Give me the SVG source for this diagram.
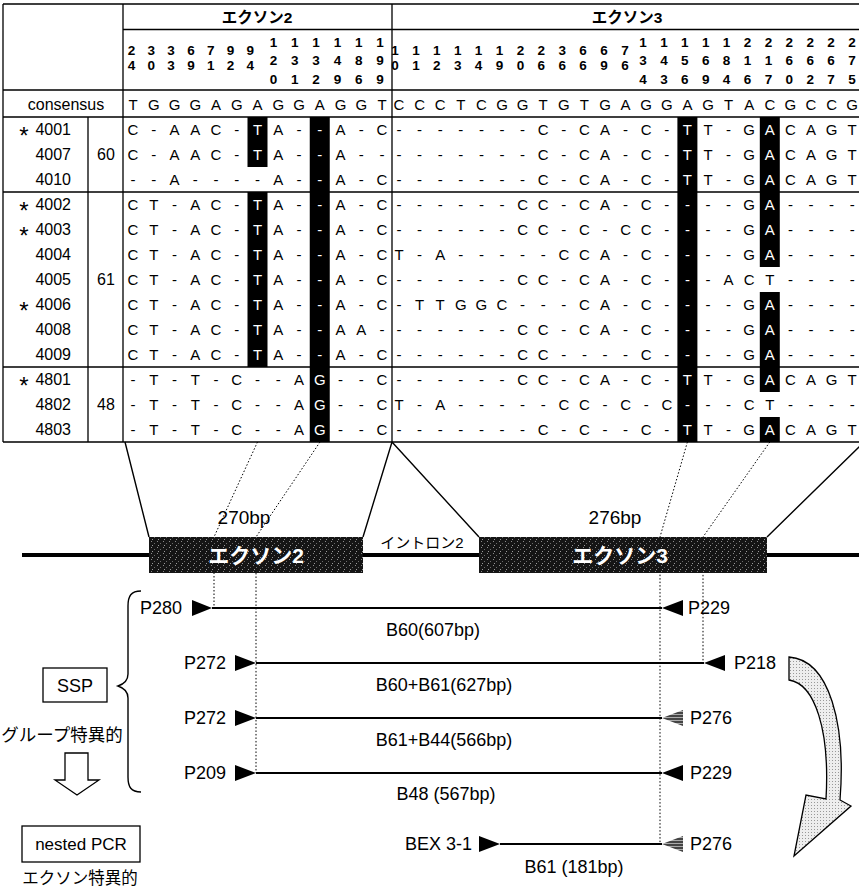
<svg xmlns="http://www.w3.org/2000/svg" width="859" height="892" viewBox="0 0 859 892">
<defs>
<style>
text{font-family:"Liberation Sans",Arial,"Noto Sans CJK JP",sans-serif;fill:#000}
.seq{font-size:15px;text-anchor:middle}
.w{fill:#fff}
.hd{font-size:13.5px;font-weight:bold;text-anchor:middle}
.nm{font-size:16px;text-anchor:end}
.ast{font-size:24px;text-anchor:middle}
.gn{font-size:16px;text-anchor:middle}
.ttl{font-size:15.5px;font-weight:bold;text-anchor:middle}
.lbl{font-size:18px}
.mid{text-anchor:middle}
.end{text-anchor:end}
.grid{stroke:#000;stroke-width:1.3;fill:none}
.sol{stroke:#000;stroke-width:1.4;fill:none}
.dot{stroke:#000;stroke-width:1;stroke-dasharray:1.5 2;fill:none}
.pl{stroke:#000;stroke-width:2;fill:none}
.bk{fill:#000}
</style>
<pattern id="spk" width="6" height="6" patternUnits="userSpaceOnUse"><rect width="6" height="6" fill="#151515"/><rect x="1" y="1" width="1" height="1" fill="#8a8a8a"/><rect x="4" y="3" width="1" height="1" fill="#6a6a6a"/><rect x="2" y="5" width="1" height="1" fill="#9a9a9a"/></pattern>
<pattern id="hat" width="3" height="3" patternUnits="userSpaceOnUse"><rect width="3" height="3" fill="#444"/><rect width="3" height="1" fill="#aaa"/></pattern>
<pattern id="stp" width="3" height="3" patternUnits="userSpaceOnUse"><rect width="3" height="3" fill="#eee"/><rect x="1" y="1" width="1" height="1" fill="#999"/></pattern>
</defs>

<g id="table">
<rect class="bk" x="247.5" y="117" width="20" height="50"/>
<rect class="bk" x="247.5" y="192" width="20" height="175"/>
<rect class="bk" x="309.75" y="117" width="20" height="325"/>
<rect class="bk" x="677.4" y="117" width="20" height="325"/>
<rect class="bk" x="759.8" y="117" width="20" height="150"/>
<rect class="bk" x="759.8" y="292" width="20" height="100"/>
<rect class="bk" x="759.8" y="417" width="20" height="25"/>

<path class="grid" d="M3 4H859M123 29.5H859M3 90H859M3 117H859M3 192H859M3 367H859M3 442H859M3 4V442M88 117V442M123 4V442M392 4V442"/>

<text class="ttl" x="257" y="23">エクソン2</text>
<text class="ttl" x="627" y="23">エクソン3</text>
<text class="hd" x="131.5 151.3 171.1 190.9 210.7 230.5 250.3" y="55">2336799</text>
<text class="hd" x="131.5 151.3 171.1 190.9 210.7 230.5 250.3" y="70">4039124</text>
<text class="hd" x="273.5 294.8 316.1 337.4 358.7 380" y="47">111111</text>
<text class="hd" x="273.5 294.8 316.1 337.4 358.7 380" y="65">233489</text>
<text class="hd" x="273.5 294.8 316.1 337.4 358.7 380" y="84">012969</text>
<text class="hd" x="395 415.9 436.8 457.7 478.6 499.5 520.4 541.3 562.2 583.1 604 624.9" y="55">111111223667</text>
<text class="hd" x="395 415.9 436.8 457.7 478.6 499.5 520.4 541.3 562.2 583.1 604 624.9" y="70">012349066696</text>
<text class="hd" x="643 663.9 684.8 705.7 726.6 747.5 768.4 789.3 810.2 831.1 852" y="47">11111222222</text>
<text class="hd" x="643 663.9 684.8 705.7 726.6 747.5 768.4 789.3 810.2 831.1 852" y="65">34568116667</text>
<text class="hd" x="643 663.9 684.8 705.7 726.6 747.5 768.4 789.3 810.2 831.1 852" y="84">43694670275</text>

<text class="gn" x="66" y="109.5">consensus</text>
<text class="seq" x="133 153.75 174.5 195.25 216 236.75 257.5 278.25 299 319.75 340.5 361.25 382" y="109.5">TGGGAGAGGAGGT</text>
<text class="seq" x="399 419.6 440.2 460.8 481.4 502 522.6 543.2 563.8 584.4 605 625.6 646.2 666.8 687.4 708 728.6 749.2 769.8 790.4 811 831.6 852.2" y="109.5">CCCTCGGTGTGAGGAGTACGCCG</text>

<text class="ast" x="24" y="143.5">*</text><text class="nm" x="71" y="135">4001</text>
<text class="nm" x="71" y="160">4007</text>
<text class="nm" x="71" y="185">4010</text>
<text class="ast" x="24" y="218.5">*</text><text class="nm" x="71" y="210">4002</text>
<text class="ast" x="24" y="243.5">*</text><text class="nm" x="71" y="235">4003</text>
<text class="nm" x="71" y="260">4004</text>
<text class="nm" x="71" y="285">4005</text>
<text class="ast" x="24" y="318.5">*</text><text class="nm" x="71" y="310">4006</text>
<text class="nm" x="71" y="335">4008</text>
<text class="nm" x="71" y="360">4009</text>
<text class="ast" x="24" y="393.5">*</text><text class="nm" x="71" y="385">4801</text>
<text class="nm" x="71" y="410">4802</text>
<text class="nm" x="71" y="435">4803</text>
<text class="gn" x="106" y="160">60</text>
<text class="gn" x="106" y="285">61</text>
<text class="gn" x="106" y="410">48</text>

<g id="exon2-rows">
<text class="seq" x="133 153.75 174.5 195.25 216 236.75 257.5 278.25 299 319.75 340.5 361.25 382" y="135">C-AAC-<tspan class="w">T</tspan>A-<tspan class="w">-</tspan>A-C</text>
<text class="seq" x="133 153.75 174.5 195.25 216 236.75 257.5 278.25 299 319.75 340.5 361.25 382" y="160">C-AAC-<tspan class="w">T</tspan>A-<tspan class="w">-</tspan>A--</text>
<text class="seq" x="133 153.75 174.5 195.25 216 236.75 257.5 278.25 299 319.75 340.5 361.25 382" y="185">--A----A-<tspan class="w">-</tspan>A-C</text>
<text class="seq" x="133 153.75 174.5 195.25 216 236.75 257.5 278.25 299 319.75 340.5 361.25 382" y="210">CT-AC-<tspan class="w">T</tspan>A-<tspan class="w">-</tspan>A-C</text>
<text class="seq" x="133 153.75 174.5 195.25 216 236.75 257.5 278.25 299 319.75 340.5 361.25 382" y="235">CT-AC-<tspan class="w">T</tspan>A-<tspan class="w">-</tspan>A-C</text>
<text class="seq" x="133 153.75 174.5 195.25 216 236.75 257.5 278.25 299 319.75 340.5 361.25 382" y="260">CT-AC-<tspan class="w">T</tspan>A-<tspan class="w">-</tspan>A-C</text>
<text class="seq" x="133 153.75 174.5 195.25 216 236.75 257.5 278.25 299 319.75 340.5 361.25 382" y="285">CT-AC-<tspan class="w">T</tspan>A-<tspan class="w">-</tspan>A-C</text>
<text class="seq" x="133 153.75 174.5 195.25 216 236.75 257.5 278.25 299 319.75 340.5 361.25 382" y="310">CT-AC-<tspan class="w">T</tspan>A-<tspan class="w">-</tspan>A-C</text>
<text class="seq" x="133 153.75 174.5 195.25 216 236.75 257.5 278.25 299 319.75 340.5 361.25 382" y="335">CT-AC-<tspan class="w">T</tspan>A-<tspan class="w">-</tspan>AA-</text>
<text class="seq" x="133 153.75 174.5 195.25 216 236.75 257.5 278.25 299 319.75 340.5 361.25 382" y="360">CT-AC-<tspan class="w">T</tspan>A-<tspan class="w">-</tspan>A-C</text>
<text class="seq" x="133 153.75 174.5 195.25 216 236.75 257.5 278.25 299 319.75 340.5 361.25 382" y="385">-T-T-C--A<tspan class="w">G</tspan>--C</text>
<text class="seq" x="133 153.75 174.5 195.25 216 236.75 257.5 278.25 299 319.75 340.5 361.25 382" y="410">-T-T-C--A<tspan class="w">G</tspan>--C</text>
<text class="seq" x="133 153.75 174.5 195.25 216 236.75 257.5 278.25 299 319.75 340.5 361.25 382" y="435">-T-T-C--A<tspan class="w">G</tspan>--C</text>
</g>

<g id="exon3-rows">
<text class="seq" x="399 419.6 440.2 460.8 481.4 502 522.6 543.2 563.8 584.4 605 625.6 646.2 666.8 687.4 708 728.6 749.2 769.8 790.4 811 831.6 852.2" y="135">-------C-CA-C-<tspan class="w">T</tspan>T-G<tspan class="w">A</tspan>CAGT</text>
<text class="seq" x="399 419.6 440.2 460.8 481.4 502 522.6 543.2 563.8 584.4 605 625.6 646.2 666.8 687.4 708 728.6 749.2 769.8 790.4 811 831.6 852.2" y="160">-------C-CA-C-<tspan class="w">T</tspan>T-G<tspan class="w">A</tspan>CAGT</text>
<text class="seq" x="399 419.6 440.2 460.8 481.4 502 522.6 543.2 563.8 584.4 605 625.6 646.2 666.8 687.4 708 728.6 749.2 769.8 790.4 811 831.6 852.2" y="185">-------C-CA-C-<tspan class="w">T</tspan>T-G<tspan class="w">A</tspan>CAGT</text>
<text class="seq" x="399 419.6 440.2 460.8 481.4 502 522.6 543.2 563.8 584.4 605 625.6 646.2 666.8 687.4 708 728.6 749.2 769.8 790.4 811 831.6 852.2" y="210">------CC-CA-C-<tspan class="w">-</tspan>--G<tspan class="w">A</tspan>----</text>
<text class="seq" x="399 419.6 440.2 460.8 481.4 502 522.6 543.2 563.8 584.4 605 625.6 646.2 666.8 687.4 708 728.6 749.2 769.8 790.4 811 831.6 852.2" y="235">------CC-C-CC-<tspan class="w">-</tspan>--G<tspan class="w">A</tspan>----</text>
<text class="seq" x="399 419.6 440.2 460.8 481.4 502 522.6 543.2 563.8 584.4 605 625.6 646.2 666.8 687.4 708 728.6 749.2 769.8 790.4 811 831.6 852.2" y="260">T-A-----CCA-C-<tspan class="w">-</tspan>--G<tspan class="w">A</tspan>----</text>
<text class="seq" x="399 419.6 440.2 460.8 481.4 502 522.6 543.2 563.8 584.4 605 625.6 646.2 666.8 687.4 708 728.6 749.2 769.8 790.4 811 831.6 852.2" y="285">------CC-CA-C-<tspan class="w">-</tspan>-ACT----</text>
<text class="seq" x="399 419.6 440.2 460.8 481.4 502 522.6 543.2 563.8 584.4 605 625.6 646.2 666.8 687.4 708 728.6 749.2 769.8 790.4 811 831.6 852.2" y="310">-TTGGC---CA-C-<tspan class="w">-</tspan>--G<tspan class="w">A</tspan>----</text>
<text class="seq" x="399 419.6 440.2 460.8 481.4 502 522.6 543.2 563.8 584.4 605 625.6 646.2 666.8 687.4 708 728.6 749.2 769.8 790.4 811 831.6 852.2" y="335">------CC-CA-C-<tspan class="w">-</tspan>--G<tspan class="w">A</tspan>----</text>
<text class="seq" x="399 419.6 440.2 460.8 481.4 502 522.6 543.2 563.8 584.4 605 625.6 646.2 666.8 687.4 708 728.6 749.2 769.8 790.4 811 831.6 852.2" y="360">------CC----C-<tspan class="w">-</tspan>--G<tspan class="w">A</tspan>----</text>
<text class="seq" x="399 419.6 440.2 460.8 481.4 502 522.6 543.2 563.8 584.4 605 625.6 646.2 666.8 687.4 708 728.6 749.2 769.8 790.4 811 831.6 852.2" y="385">------CC-CA-C-<tspan class="w">T</tspan>T-G<tspan class="w">A</tspan>CAGT</text>
<text class="seq" x="399 419.6 440.2 460.8 481.4 502 522.6 543.2 563.8 584.4 605 625.6 646.2 666.8 687.4 708 728.6 749.2 769.8 790.4 811 831.6 852.2" y="410">T-A-----CC-C-C<tspan class="w">-</tspan>--CT----</text>
<text class="seq" x="399 419.6 440.2 460.8 481.4 502 522.6 543.2 563.8 584.4 605 625.6 646.2 666.8 687.4 708 728.6 749.2 769.8 790.4 811 831.6 852.2" y="435">-------C-C--C-<tspan class="w">T</tspan>T-G<tspan class="w">A</tspan>CAGT</text>
</g>
</g>

<g id="connectors">
<path class="sol" d="M125 442L149 537M392 442L363 537M392 442L479 537M864 442L767 537"/>
<path class="dot" d="M257.5 442L214 537V608M320 442L256 537V773M687.4 442L660 537V844M769.8 442L703 537V663"/>
</g>

<g id="gene">
<path d="M22 555H859" stroke="#000" stroke-width="4"/>
<g id="exon2"><rect x="149" y="537" width="214" height="36" fill="url(#spk)"/><text x="256" y="563" class="mid" font-size="21" font-weight="bold" style="fill:#fff">エクソン2</text></g>
<g id="exon3"><rect x="479" y="537" width="288" height="36" fill="url(#spk)"/><text x="620" y="563" class="mid" font-size="21" font-weight="bold" style="fill:#fff">エクソン3</text></g>
<text x="244" y="524" class="mid" font-size="19">270bp</text>
<text x="615" y="524" class="mid" font-size="19">276bp</text>
<text x="422" y="548" class="mid" font-size="15">イントロン2</text>
</g>

<g id="primers">
<g id="pr1"><text class="lbl end" x="182" y="614">P280</text><path class="bk" d="M192 600L212 608L192 616Z"/><path class="pl" d="M212 608H662"/><path class="bk" d="M683 600L662 608L683 616Z"/><text class="lbl" x="688" y="614">P229</text><text class="lbl mid" x="433" y="636">B60(607bp)</text></g>
<g id="pr2"><text class="lbl end" x="226" y="669">P272</text><path class="bk" d="M235 655L256 663L235 671Z"/><path class="pl" d="M256 663H704"/><path class="bk" d="M725 655L704 663L725 671Z"/><text class="lbl" x="734" y="669">P218</text><text class="lbl mid" x="444" y="691">B60+B61(627bp)</text></g>
<g id="pr3"><text class="lbl end" x="226" y="724">P272</text><path class="bk" d="M235 710L256 718L235 726Z"/><path class="pl" d="M256 718H662"/><path fill="url(#hat)" d="M683 710L662 718L683 726Z"/><text class="lbl" x="690" y="724">P276</text><text class="lbl mid" x="444" y="746">B61+B44(566bp)</text></g>
<g id="pr4"><text class="lbl end" x="226" y="779">P209</text><path class="bk" d="M235 765L256 773L235 781Z"/><path class="pl" d="M256 773H662"/><path class="bk" d="M683 765L662 773L683 781Z"/><text class="lbl" x="690" y="779">P229</text><text class="lbl mid" x="446" y="800">B48 (567bp)</text></g>
<g id="pr5"><text class="lbl end" x="472" y="850">BEX 3-1</text><path class="bk" d="M479 836L500 844L479 852Z"/><path class="pl" d="M500 844H662"/><path fill="url(#hat)" d="M683 836L662 844L683 852Z"/><text class="lbl" x="690" y="850">P276</text><text class="lbl mid" x="574" y="873">B61 (181bp)</text></g>
<path id="curved-arrow" d="M789 657C830 660 846 725 840 800L851 806L794 856L806 795L826 799C830 730 815 684 789 680Z" fill="url(#stp)" stroke="#000" stroke-width="1.3"/>
</g>

<g id="left">
<path class="sol" d="M141 591C131 591 128 596 128 606L128 674C128 681 124 684 118 686C124 688 128 691 128 698L128 777C128 787 131 792 141 792"/>
<g id="ssp"><rect x="43" y="668" width="64" height="34" fill="none" stroke="#000" stroke-width="1.3"/><text class="lbl mid" x="75" y="692">SSP</text></g>
<text class="mid" x="62" y="741" font-size="17.5">グループ特異的</text>
<path d="M65 753H88V780H99L77 795L55 780H65Z" fill="#fff" stroke="#000" stroke-width="1.3"/>
<g id="nested"><rect x="22" y="826" width="118" height="36" fill="none" stroke="#000" stroke-width="1.3"/><text class="mid" x="81" y="850" font-size="17">nested PCR</text></g>
<text class="mid" x="80" y="884" font-size="16.5">エクソン特異的</text>
</g>
</svg>
